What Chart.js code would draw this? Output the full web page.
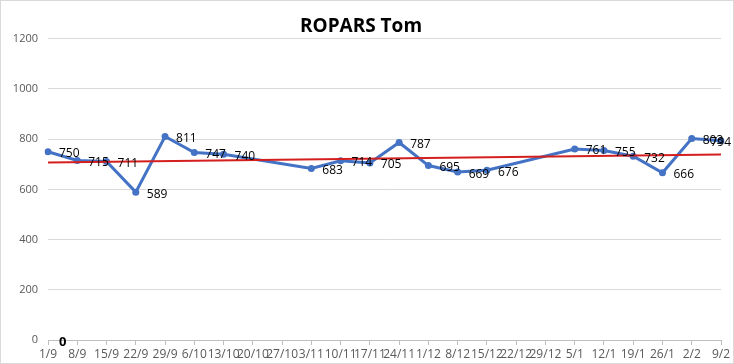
<!DOCTYPE html>
<html>
<head>
<meta charset="utf-8">
<script src="https://cdn.jsdelivr.net/npm/chart.js@4"></script>
<style>
    body { margin: 0; background: #fff; }
    #wrap { width: 732px; height: 362px; border: 1px solid #d9d9d9; }
</style>
</head>
<body>
<div id="wrap"><canvas id="ropars" width="732" height="362"></canvas></div>
<script>
/* =========================
   DATA
========================= */

const weeks = ["1/9", "8/9", "15/9", "22/9", "29/9", "6/10", "13/10", "20/10", "27/10",
    "3/11", "10/11", "17/11", "24/11", "1/12", "8/12", "15/12", "22/12", "29/12",
    "5/1", "12/1", "19/1", "26/1", "2/2", "9/2"];

const scores = [750, 715, 711, 589, 811, 747, 740, null, null, 683, 714, 705, 787,
    695, 669, 676, null, null, 761, 755, 732, 666, 803, 794];

// linear trendline, read at both ends
const trend = [707, null, null, null, null, null, null, null, null, null, null, null,
    null, null, null, null, null, null, null, null, null, null, null, 739];

// stray zero label sitting on the axis
const zeroMark = [0];

const yTicks = [0, 200, 400, 600, 800, 1000, 1200];


/* =========================
   DATA LABELS PLUGIN
========================= */

const pointLabels = {
    id: "pointLabels",
    afterDatasetsDraw(chart) {
        const ctx = chart.ctx;
        chart.data.datasets.forEach((ds, i) => {
            if (!ds.showLabels) return;
            const meta = chart.getDatasetMeta(i);
            meta.data.forEach((pt, j) => {
                const v = ds.data[j];
                if (v === null || v === undefined) return;
                ctx.save();
                ctx.font = ds.labelFont || "12px 'Open Sans'";
                ctx.fillStyle = "#000";
                ctx.textAlign = "left";
                ctx.textBaseline = "middle";
                const txt = String(v);
                // keep label inside the canvas like Excel does
                const x = Math.min(pt.x + 11, chart.width - ctx.measureText(txt).width - 2);
                ctx.fillText(txt, x, pt.y + 2);
                ctx.restore();
            });
        });
    }
};


/* =========================
   CHART
========================= */

new Chart(document.getElementById("ropars"), {
    type: "line",
    data: {
        labels: weeks,
        datasets: [{
            label: "Trend",
            data: trend,
            borderColor: "#d41f1f",
            borderWidth: 2,
            pointRadius: 0,
            spanGaps: true
        }, {
            label: "ROPARS Tom",
            data: scores,
            borderColor: "#4472c4",
            backgroundColor: "#4472c4",
            borderWidth: 3,
            pointRadius: 3.5,
            pointHoverRadius: 3.5,
            pointBorderWidth: 0,
            spanGaps: true,
            showLabels: true
        }, {
            label: "Zero",
            data: zeroMark,
            pointRadius: 0,
            borderWidth: 0,
            showLabels: true,
            labelFont: "bold 13px 'Open Sans'"
        }]
    },
    options: {
        responsive: false,
        animation: false,
        layout: { padding: { left: 0, right: 12, top: 0, bottom: 0 } },
        plugins: {
            legend: { display: false },
            tooltip: { enabled: false },
            title: {
                display: true,
                text: "ROPARS Tom",
                color: "#000",
                font: { family: "'Open Sans'", size: 19, weight: "bold" },
                padding: { top: 14, bottom: 1 }
            }
        },
        scales: {
            x: {
                offset: false,
                grid: {
                    drawOnChartArea: false,
                    drawTicks: true,
                    tickLength: 5,
                    color: "#bfbfbf"
                },
                border: { color: "#bfbfbf" },
                ticks: {
                    autoSkip: false,
                    maxRotation: 0,
                    color: "#595959",
                    padding: 2,
                    font: { family: "'Open Sans'", size: 12 }
                },
                afterFit(scale) { scale.height = 23; }
            },
            y: {
                min: 0,
                max: 1200,
                grid: { color: "#d9d9d9", drawTicks: false },
                border: { display: false },
                afterBuildTicks(scale) {
                    scale.ticks = yTicks.map(v => ({ value: v }));
                },
                ticks: {
                    color: "#595959",
                    padding: 10,
                    font: { family: "'Open Sans'", size: 11 },
                    callback: v => String(v)
                },
                afterFit(scale) { scale.width = 47; }
            }
        }
    },
    plugins: [pointLabels]
});
</script>
</body>
</html>
